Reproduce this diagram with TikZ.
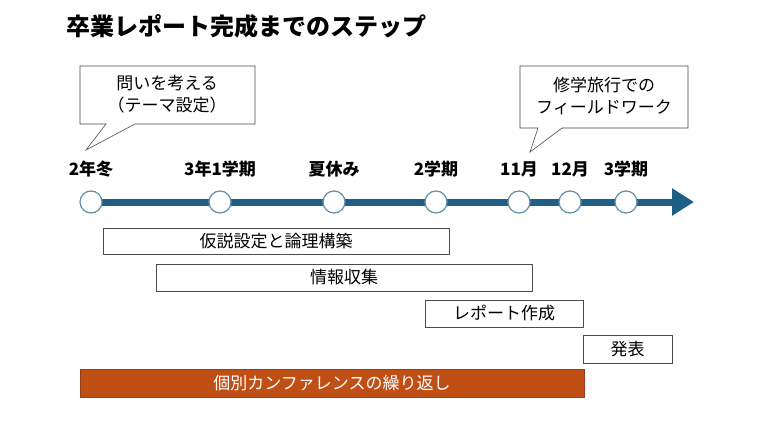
\documentclass[tikz,border=0pt]{standalone}
\usepackage{fontspec}
\setmainfont{Noto Sans CJK JP}
\usetikzlibrary{positioning,arrows.meta,calc}
\definecolor{lineblue}{HTML}{1F5F86}
\definecolor{confor}{HTML}{C04F15}
\tikzset{
  stage/.style={circle,draw=lineblue!70,line width=1.2pt,fill=white,minimum size=22pt,inner sep=0pt},
  stagelabel/.style={font=\bfseries\fontsize{17}{19}\selectfont},
  taskbar/.style={draw=black!70,line width=0.6pt,fill=white,font=\fontsize{17}{19}\selectfont,inner sep=0pt},
  callout/.style={font=\fontsize{17}{22}\selectfont,align=center}
}
\begin{document}
\begin{tikzpicture}[x=1pt,y=-1pt]
    \useasboundingbox (0,0) rectangle (760,428);
    % Title
    \node[anchor=west,font=\bfseries\fontsize{24}{26}\selectfont] (title) at (63,26) {卒業レポート完成までのステップ};

    % Timeline
    \coordinate (tstart) at (91,202);
    \coordinate (tend) at (694,202);
    \draw[lineblue,line width=7pt,-{Triangle[length=22pt,width=26pt]}] (tstart) -- (tend);
    \foreach \x/\name/\lab in {91/s1/2年冬,220/s2/3年1学期,334/s3/夏休み,436/s4/2学期,519/s5/11月,570/s6/12月,626/s7/3学期}{
        \node[stage] (\name) at (\x,202) {};
        \node[stagelabel,above=10pt of \name] (\name l) {\lab};
    }

    % Callouts
    \draw[black!70,line width=0.6pt,fill=white] (80,66) -- (255,66) -- (255,124) -- (135,124) -- (86,150) -- (106,124) -- (80,124) -- cycle;
    \node[callout] (q) at (167,94) {問いを考える\\（テーマ設定）};
    \draw[black!70,line width=0.6pt,fill=white] (520,66) -- (688,66) -- (688,128) -- (562,128) -- (530,152) -- (538,128) -- (520,128) -- cycle;
    \node[callout] (fw) at (604,96) {修学旅行での\\フィールドワーク};

    % Tasks
    \node[taskbar,minimum width=346pt,minimum height=26pt] (hypo) at (276,241) {仮説設定と論理構築};
    \node[taskbar,minimum width=376pt,minimum height=27pt] (info) at (344,277.5) {情報収集};
    \node[taskbar,minimum width=158pt,minimum height=27pt] (rep) at (504,313.5) {レポート作成};
    \node[taskbar,minimum width=89pt,minimum height=28pt] (pres) at (627.5,349) {発表};
    \node[taskbar,draw=confor!80!black,fill=confor,text=white,minimum width=504pt,minimum height=28pt] (conf) at (332,383) {個別カンファレンスの繰り返し};
\end{tikzpicture}
\end{document}
